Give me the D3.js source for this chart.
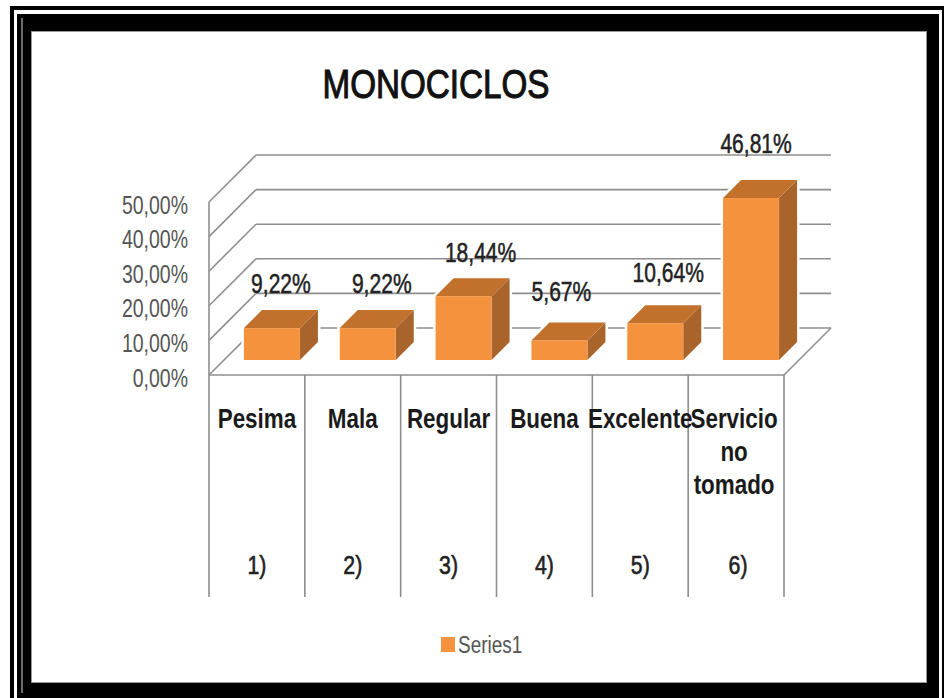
<!DOCTYPE html>
<html>
<head>
<meta charset="utf-8">
<script src="https://cdn.jsdelivr.net/npm/d3@7"></script>
<style>
html, body { margin:0; padding:0; background:#fff; }
svg { display:block; }
text { font-family:"Liberation Sans", Arial, sans-serif; }
</style>
</head>
<body>
<script>
var categories = [["Pesima"], ["Mala"], ["Regular"], ["Buena"], ["Excelente"], ["Servicio", "no", "tomado"]]
var numbers = ["1)", "2)", "3)", "4)", "5)", "6)"]
var values = [9.22, 9.22, 18.44, 5.67, 10.64, 46.81]
var yTicks = [0, 10, 20, 30, 40, 50]
var seriesName = "Series1"
var chartTitle = "MONOCICLOS"

var width = 944, height = 698
var comma = function(v, n) { return v.toFixed(n).replace(".", ",") + "%" }

var svg = d3.select("body").append("svg")
    .attr("width", width)
    .attr("height", height)

// double black frame, runs off the right and bottom of the picture
svg.append("rect").attr("width", width).attr("height", height).attr("fill", "#fff")
svg.append("rect").attr("x", 10).attr("y", 6).attr("width", 934).attr("height", 692).attr("fill", "#000")
svg.append("rect").attr("x", 14).attr("y", 10).attr("width", 928).attr("height", 688).attr("fill", "#fff")
svg.append("rect").attr("x", 17).attr("y", 14).attr("width", 922).attr("height", 684).attr("fill", "#000")
svg.append("line").attr("x1", 22).attr("x2", 22).attr("y1", 18).attr("y2", 693)
    .attr("stroke", "#6e6e6e").attr("stroke-width", 2)
svg.append("rect").attr("x", 31.5).attr("y", 31.5).attr("width", 895).attr("height", 651)
    .attr("fill", "#fff").attr("stroke", "#999").attr("stroke-width", 1)

var x = d3.scaleBand().domain(d3.range(categories.length)).range([209, 784])
var y = d3.scaleLinear().domain([0, 50]).range([375, 202])

var depth = 47          // floor depth of the fake 3d
var barWidth = 56
var barNear = 15, barFar = 33   // where the bar sits inside the floor depth
var grid = "#8e8e8e"

var walls = svg.append("g").attr("stroke", grid).attr("stroke-width", 1.6).attr("fill", "none")

walls.selectAll(".back").data(yTicks).enter().append("line")
    .attr("x1", 209 + depth).attr("x2", 784 + depth)
    .attr("y1", function(d) { return y(d) - depth })
    .attr("y2", function(d) { return y(d) - depth })

walls.selectAll(".side").data(yTicks).enter().append("line")
    .attr("x1", 209).attr("x2", 209 + depth)
    .attr("y1", function(d) { return y(d) })
    .attr("y2", function(d) { return y(d) - depth })

walls.append("line").attr("x1", 209).attr("x2", 784).attr("y1", y(0)).attr("y2", y(0))
walls.append("line").attr("x1", 784).attr("x2", 784 + depth).attr("y1", y(0)).attr("y2", y(0) - depth)
walls.append("line").attr("x1", 209).attr("x2", 209).attr("y1", y(50)).attr("y2", y(0))

// table-like dividers under the floor
walls.selectAll(".div").data(d3.range(categories.length + 1)).enter().append("line")
    .attr("x1", function(d) { return 209 + d * x.step() })
    .attr("x2", function(d) { return 209 + d * x.step() })
    .attr("y1", y(0)).attr("y2", 597)

var bars = svg.append("g").selectAll("g").data(values).enter().append("g")

function pts(a) { return a.map(function(p) { return p.join(",") }).join(" ") }
function bx(i) { return x(i) + x.bandwidth() / 2 - barWidth / 2 + barNear }

// white halo, the scan has one around each bar
bars.append("polygon")
    .attr("fill", "#fff")
    .attr("stroke", "#fff")
    .attr("stroke-width", 5)
    .attr("points", function(d, i) {
        var l = bx(i), r = l + barWidth, b = y(0) - barNear, t = b - (y(0) - y(d)), k = barFar - barNear
        return pts([[l, b], [l, t], [l + k, t - k], [r + k, t - k], [r + k, b - k], [r, b]])
    })

bars.append("polygon")
    .attr("fill", "#a9642b")
    .attr("points", function(d, i) {
        var r = bx(i) + barWidth, b = y(0) - barNear, t = b - (y(0) - y(d)), k = barFar - barNear
        return pts([[r, b], [r, t], [r + k, t - k], [r + k, b - k]])
    })

bars.append("polygon")
    .attr("fill", "#c2712d")
    .attr("points", function(d, i) {
        var l = bx(i), r = l + barWidth, t = y(0) - barNear - (y(0) - y(d)), k = barFar - barNear
        return pts([[l, t], [l + k, t - k], [r + k, t - k], [r, t]])
    })

bars.append("rect")
    .attr("fill", "#f5923e")
    .attr("x", function(d, i) { return bx(i) })
    .attr("y", function(d) { return y(d) - barNear })
    .attr("width", barWidth)
    .attr("height", function(d) { return y(0) - y(d) })

// squeezed text, the reference picture is stretched upward
function put(g, px, py, str, size, k, opts) {
    opts = opts || {}
    return g.append("text")
        .attr("transform", "translate(" + px + "," + py + ") scale(" + k + ",1)")
        .attr("text-anchor", opts.anchor || "middle")
        .attr("font-size", size)
        .attr("font-weight", opts.weight || "normal")
        .attr("fill", opts.fill || "#1a1a1a")
        .attr("stroke", opts.stroke || "none")
        .attr("stroke-width", opts.stroke ? (opts.sw || 0.4) : null)
        .text(str)
}

// value axis
var yAxis = svg.append("g")
    .attr("transform", "translate(188,2)")
    .call(d3.axisLeft(y).tickValues(yTicks).tickSize(0).tickPadding(0)
        .tickFormat(function(d) { return comma(d, 2) }))
yAxis.select(".domain").remove()
yAxis.selectAll("text")
    .attr("font-size", 25)
    .attr("font-family", '"Liberation Sans", Arial, sans-serif')
    .attr("fill", "#555")
    .attr("dy", "0.36em")
    .attr("transform", "scale(0.78,1)")

// data labels, nudged by hand where the original moved them
var labelDx = [0, 5, 8, -7, 4, -4]
var labelLift = [17, 17, 16, 21, 23, 27]
var labels = svg.append("g")
values.forEach(function(v, i) {
    var cx = bx(i) + barWidth / 2 + (barFar - barNear) / 2 + labelDx[i]
    var top = y(v) - barFar
    put(labels, cx, top - labelLift[i], comma(v, 2), 27, 0.78, {fill: "#222", stroke: "#222", sw: 0.5})
})

// category labels
var cats = svg.append("g")
categories.forEach(function(lines, i) {
    var cx = x(i) + x.bandwidth() / 2
    lines.forEach(function(s, j) {
        put(cats, cx - (i == 5 ? 2 : 0), 428 + j * 33, s, 27, 0.83, {weight: "bold"})
    })
    put(cats, cx + (i == 5 ? 2 : 0), 574, numbers[i], 26, 0.82, {fill: "#222", stroke: "#222", sw: 0.6})
})

// title
put(svg, 436, 98, chartTitle, 41, 0.81, {fill: "#111", stroke: "#111", sw: 1.1})

// legend
svg.append("rect").attr("x", 441).attr("y", 637).attr("width", 14).attr("height", 15).attr("fill", "#f5923e")
put(svg, 458, 653, seriesName, 24, 0.79, {anchor: "start", fill: "#555"})
</script>
</body>
</html>
